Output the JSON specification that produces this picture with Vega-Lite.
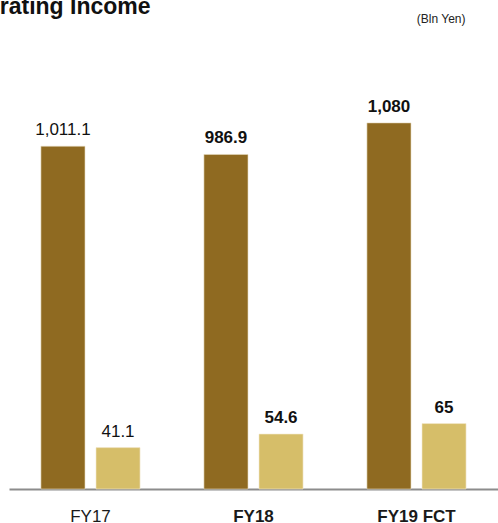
{
  "$schema": "https://vega.github.io/schema/vega-lite/v6.json",
  "width": 489,
  "height": 449,
  "autosize": "none",
  "padding": {"left": 9, "top": 40, "right": 0, "bottom": 34},
  "config": {"view": {"stroke": null}, "font": "Liberation Sans"},
  "title": {"text": "Operating Income", "anchor": "start", "frame": "group", "fontSize": 23, "fontWeight": "bold", "color": "#111111", "dx": -54, "dy": 25, "offset": 0, "baseline": "alphabetic"},
  "data": {"values": [
    {"cat": "FY17", "series": "Sales", "value": 1011.1},
    {"cat": "FY18", "series": "Sales", "value": 986.9},
    {"cat": "FY19 FCT", "series": "Sales", "value": 1080},
    {"cat": "FY17", "series": "OI", "value": 41.1},
    {"cat": "FY18", "series": "OI", "value": 54.6},
    {"cat": "FY19 FCT", "series": "OI", "value": 65}
  ]},
  "encoding": {
    "x": {"field": "cat", "type": "nominal", "sort": ["FY17", "FY18", "FY19 FCT"],
      "scale": {"paddingInner": 0, "paddingOuter": 0},
      "axis": {"title": null, "labelAngle": 0, "ticks": false, "tickSize": 0, "labelPadding": 19, "labelFontSize": 17, "labelColor": "#1a1a1a",
        "labelFontWeight": {"condition": {"test": "datum.value === 'FY17'", "value": "normal"}, "value": "bold"},
        "domainColor": "#8c8c8c", "domainWidth": 2}},
    "xOffset": {"field": "series", "type": "nominal", "scale": {"domain": ["Sales", "OI"], "paddingInner": 0.2, "paddingOuter": 0.58}}
  },
  "layer": [
    {
      "transform": [{"filter": "datum.series === 'Sales'"}],
      "encoding": {"y": {"field": "value", "type": "quantitative", "scale": {"domain": [0, 1324.5], "nice": false},
        "axis": {"title": "(Bln Yen)", "labels": false, "ticks": false, "domain": false, "grid": false, "titleAngle": 0, "titleX": 456, "titleY": -18, "titleAlign": "right", "titleBaseline": "alphabetic", "titleFontSize": 12, "titleFontWeight": "normal", "titleColor": "#222222"}}},
      "layer": [
        {"mark": {"type": "bar", "color": "#8f6a21", "stroke": "#e8dcc0", "strokeWidth": 0.6}},
        {"transform": [{"filter": "datum.cat === 'FY17'"}], "mark": {"type": "text", "dy": -11, "baseline": "alphabetic", "fontSize": 17, "fontWeight": "normal", "color": "#111111"}, "encoding": {"text": {"field": "value", "type": "quantitative", "format": ","}}},
        {"transform": [{"filter": "datum.cat !== 'FY17'"}], "mark": {"type": "text", "dy": -11, "baseline": "alphabetic", "fontSize": 17, "fontWeight": "bold", "color": "#111111"}, "encoding": {"text": {"field": "value", "type": "quantitative", "format": ","}}}
      ]
    },
    {
      "transform": [{"filter": "datum.series === 'OI'"}],
      "encoding": {"y": {"field": "value", "type": "quantitative", "scale": {"domain": [0, 445.9], "nice": false}, "axis": null}},
      "layer": [
        {"mark": {"type": "bar", "color": "#d6be69", "stroke": "#f3ead0", "strokeWidth": 0.6}},
        {"transform": [{"filter": "datum.cat === 'FY17'"}], "mark": {"type": "text", "dy": -11, "baseline": "alphabetic", "fontSize": 17, "fontWeight": "normal", "color": "#111111"}, "encoding": {"text": {"field": "value", "type": "quantitative", "format": ","}}},
        {"transform": [{"filter": "datum.cat !== 'FY17'"}], "mark": {"type": "text", "dy": -11, "baseline": "alphabetic", "fontSize": 17, "fontWeight": "bold", "color": "#111111"}, "encoding": {"text": {"field": "value", "type": "quantitative", "format": ","}}}
      ]
    }
  ],
  "resolve": {"scale": {"y": "independent"}, "axis": {"y": "independent"}}
}
